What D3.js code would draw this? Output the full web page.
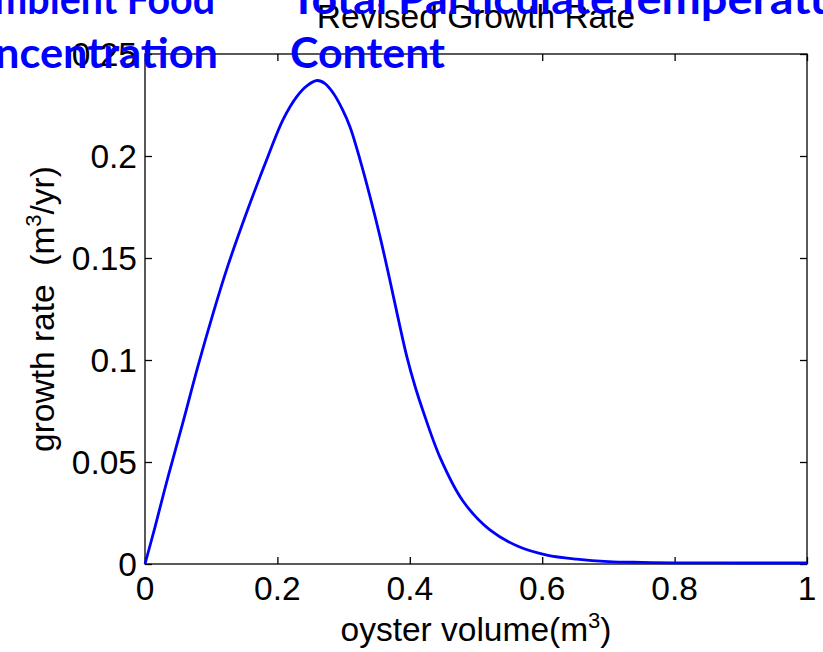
<!DOCTYPE html>
<html>
<head>
<meta charset="utf-8">
<script src="https://cdn.jsdelivr.net/npm/d3@7/dist/d3.min.js"></script>
<style>
  html, body { margin: 0; padding: 0; background: #fff; }
  svg { display: block; }
  text { white-space: pre; }
</style>
</head>
<body>
<svg id="chart" width="823" height="652"></svg>
<script>
// Oyster growth rate against oyster volume
const volume = [0, 0.015, 0.035, 0.057, 0.08, 0.103, 0.125, 0.156, 0.186, 0.208, 0.229, 0.245, 0.26, 0.272,
  0.284, 0.298, 0.31, 0.325, 0.34, 0.355, 0.37, 0.382, 0.396, 0.408, 0.42, 0.446, 0.48, 0.521, 0.566, 0.607, 0.652,
  0.7, 0.75, 0.8, 0.9, 1.0];
const growthRate = [0, 0.018, 0.043, 0.069, 0.097, 0.123, 0.146, 0.1745, 0.200, 0.2175, 0.229, 0.2345, 0.237, 0.2355,
  0.231, 0.223, 0.214, 0.198, 0.180, 0.1605, 0.139, 0.121, 0.101, 0.087, 0.075, 0.052, 0.031, 0.0167, 0.0083, 0.0044, 0.0024,
  0.0012, 0.0008, 0.0006, 0.0005, 0.0005];

const xTicks = [0, 0.2, 0.4, 0.6, 0.8, 1];
const xTickLabels = ["0", "0.2", "0.4", "0.6", "0.8", "1"];
const yTicks = [0, 0.05, 0.1, 0.15, 0.2, 0.25];
const yTickLabels = ["0", "0.05", "0.1", "0.15", "0.2", "0.25"];

const titleText = "Revised Growth Rate";
const overlayLeft = ["Ambient Food", "Concentration"];
const overlayMiddle = ["Total Particulate", "Content"];
const overlayRight = ["Temperature"];

const svg = d3.select("#chart");
const plot = { left: 145, right: 807, top: 54, bottom: 564 };
const font = "'Liberation Sans', Arial, Helvetica, sans-serif";
const fs = 33.5;

const x = d3.scaleLinear().domain([0, 1]).range([plot.left, plot.right]);
const y = d3.scaleLinear().domain([0, 0.25]).range([plot.bottom, plot.top]);

// plot frame
svg.append("rect")
  .attr("x", plot.left).attr("y", plot.top)
  .attr("width", plot.right - plot.left).attr("height", plot.bottom - plot.top)
  .attr("fill", "#fff").attr("stroke", "#000").attr("stroke-width", 1.3);

// inward ticks on all four sides
const tickLen = 7;
const axisStyle = g => {
  g.select(".domain").remove();
  g.selectAll(".tick line").attr("stroke", "#000").attr("stroke-width", 1.3);
  g.selectAll(".tick text").remove();
};
svg.append("g").attr("transform", `translate(0,${plot.bottom})`)
  .call(d3.axisTop(x).tickValues(xTicks).tickSize(tickLen)).call(axisStyle);
svg.append("g").attr("transform", `translate(0,${plot.top})`)
  .call(d3.axisBottom(x).tickValues(xTicks).tickSize(tickLen)).call(axisStyle);
svg.append("g").attr("transform", `translate(${plot.left},0)`)
  .call(d3.axisRight(y).tickValues(yTicks).tickSize(tickLen)).call(axisStyle);
svg.append("g").attr("transform", `translate(${plot.right},0)`)
  .call(d3.axisLeft(y).tickValues(yTicks).tickSize(tickLen)).call(axisStyle);

// tick labels
svg.append("g").selectAll("text").data(xTicks).join("text")
  .attr("x", d => x(d)).attr("y", 600)
  .attr("text-anchor", "middle")
  .attr("font-family", font).attr("font-size", fs).attr("fill", "#000")
  .text((d, i) => xTickLabels[i]);
svg.append("g").selectAll("text").data(yTicks).join("text")
  .attr("x", 137).attr("y", d => y(d) + 12)
  .attr("text-anchor", "end")
  .attr("font-family", font).attr("font-size", fs).attr("fill", "#000")
  .text((d, i) => yTickLabels[i]);

// growth curve
const line = d3.line()
  .x((d, i) => x(volume[i]))
  .y(d => y(d))
  .curve(d3.curveCatmullRom.alpha(0.5));
svg.append("path")
  .datum(growthRate)
  .attr("d", line)
  .attr("fill", "none")
  .attr("stroke", "#0000ff")
  .attr("stroke-width", 2.8)
  .attr("stroke-linejoin", "round");

// title
svg.append("text")
  .attr("x", (plot.left + plot.right) / 2).attr("y", 28)
  .attr("text-anchor", "middle")
  .attr("font-family", font).attr("font-size", fs).attr("fill", "#000")
  .text(titleText);

// x axis label
const xl = svg.append("text")
  .attr("x", (plot.left + plot.right) / 2).attr("y", 641)
  .attr("text-anchor", "middle")
  .attr("font-family", font).attr("font-size", fs).attr("fill", "#000");
xl.append("tspan").text("oyster volume(m");
xl.append("tspan").attr("font-size", 22).attr("dy", -13).text("3");
xl.append("tspan").attr("dy", 13).text(")");

// y axis label
const yl = svg.append("text")
  .attr("transform", `translate(54,${(plot.top + plot.bottom) / 2}) rotate(-90)`)
  .attr("text-anchor", "middle")
  .attr("font-family", font).attr("font-size", fs).attr("fill", "#000");
yl.append("tspan").text("growth rate  (m");
yl.append("tspan").attr("font-size", 22).attr("dy", -13).text("3");
yl.append("tspan").attr("dy", 13).text("/yr)");

// factor captions on top
const blue = "#0000ff";
const capFont = "Lato, 'Open Sans', sans-serif";
const caption = (txt, xPos, yPos, anchor, len) => {
  svg.append("text")
    .attr("x", xPos).attr("y", yPos)
    .attr("text-anchor", anchor)
    .attr("font-family", capFont).attr("font-weight", "bold")
    .attr("font-size", 42).attr("fill", blue)
    .attr("textLength", len).attr("lengthAdjust", "spacingAndGlyphs")
    .text(txt);
};
caption(overlayLeft[0], 215, 14, "end", 248);
caption(overlayLeft[1], 218, 68, "end", 276);
caption(overlayMiddle[0], 290, 14, "start", 324);
caption(overlayMiddle[1], 290, 68, "start", 155);
caption(overlayRight[0], 614, 14, "start", 265);
</script>
</body>
</html>
